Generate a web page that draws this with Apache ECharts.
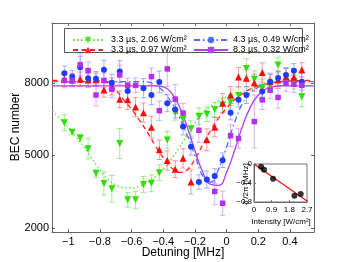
<!DOCTYPE html>
<html><head><meta charset="utf-8">
<script src="https://cdn.jsdelivr.net/npm/echarts@6/dist/echarts.min.js"></script>
<style>html,body{margin:0;padding:0;background:#fff}#c{width:349px;height:262px}</style>
</head><body><div id="c"></div>
<script>
// ---------- data ----------
const detuning = [-1.025,-0.975,-0.925,-0.875,-0.825,-0.775,-0.725,-0.675,-0.625,-0.575,-0.525,-0.475,-0.425,-0.375,-0.325,-0.275,-0.225,-0.175,-0.125,-0.075,-0.025,0.025,0.075,0.125,0.175,0.225,0.275,0.325,0.375,0.425,0.475];

const greenVals = [6350,5960,5720,5280,4250,3840,3620,5490,3160,3160,3800,3850,4280,5640,6780,6500,6100,6620,6700,6900,7090,7220,7480,8600,8150,7800,7900,8740,8250,8050,7430];
const greenErr  = [330,100,150,430,160,480,550,620,300,350,330,350,330,350,320,350,330,350,300,300,300,300,350,400,350,350,300,320,350,300,420];

const redVals = [8150,8120,8150,8120,8130,7710,7850,7320,7300,7000,6770,6170,5230,4790,4430,4880,3900,null,5650,6170,7160,7500,8240,8190,8010,8430,8050,8120,8260,8230,8540];
const redErr  = [300,280,300,300,280,300,350,350,400,400,400,450,400,400,350,400,500,0,450,400,400,350,400,350,350,400,350,350,350,350,300];

const blueVals = [8400,8260,8650,8190,8170,8540,8010,8470,7670,null,7780,7500,8040,7160,6900,6200,5360,3900,4000,4150,4800,6770,7300,7500,null,7650,8050,8200,8330,8500,8050];
const blueErr  = [300,250,450,350,300,400,350,450,350,0,400,400,450,350,350,350,350,300,350,300,300,300,300,350,0,300,300,300,300,300,350];

const purpleVals = [8100,8100,8750,8510,7500,8100,7740,8330,7900,7900,null,8260,6850,8580,7330,6750,null,6040,null,3510,3020,5820,5700,null,6400,7300,7700,7400,8000,7950,7900];
const purpleErr  = [300,250,450,350,450,300,350,400,300,300,0,350,400,720,600,400,0,500,0,550,500,450,400,0,1100,400,350,450,350,350,350];

const fitX = [-1.1,-1.05,-1.0,-0.95,-0.9,-0.85,-0.8,-0.75,-0.7,-0.65,-0.6,-0.55,-0.5,-0.45,-0.4,-0.35,-0.3,-0.25,-0.2,-0.15,-0.1,-0.05,0,0.05,0.1,0.15,0.2,0.25,0.3,0.35,0.4,0.45,0.5,0.55];
const greenFit  = [6850,6500,6150,5750,5350,4870,4400,4020,3780,3670,3650,3720,3880,4120,4430,4850,5300,5850,6350,6750,7050,7270,7420,7540,7640,7710,7780,7820,7850,7870,7880,7885,7890,7890];
const redFit    = [8100,8100,8100,8100,8095,8090,8080,8000,7700,7300,6900,6450,5950,5400,4900,4500,4300,4400,4850,5450,6050,6550,6950,7300,7550,7750,7880,7960,8020,8060,8080,8090,8100,8100];
const blueFit   = [8050,8050,8050,8050,8050,8050,8050,8050,8050,8050,8050,8050,8040,7900,7650,7200,6600,5850,5000,4150,3900,4450,5350,6350,7150,7580,7820,7950,8020,8040,8050,8050,8050,8050];
const purpleFit = [7880,7880,7880,7880,7880,7880,7880,7880,7880,7880,7880,7880,7880,7875,7840,7600,7050,6200,5200,4300,3800,3760,4300,5200,6200,7000,7500,7760,7850,7875,7880,7880,7880,7880];

const seriesNames = ['3.3 µs, 2.06 W/cm²','3.3 µs, 0.97 W/cm²','4.3 µs, 0.49 W/cm²','8.3 µs, 0.32 W/cm²'];

const xTicks = [-1,-0.8,-0.6,-0.4,-0.2,0,0.2,0.4];
const yTicks = [2000,5000,8000];

const insetIntensity = [0.36,0.51,0.97,2.06,2.38];
const insetShift = [-0.06,-0.12,-0.31,-0.67,-0.63];
const insetFitX = [0,2.7];
const insetFitY = [0,-0.78];
const insetXTicks = [0,0.9,1.8,2.7];
const insetYTicks = [-0.8,-0.4,0];

// ---------- helpers ----------
const FONT = 'Liberation Sans, Arial, Helvetica, sans-serif';
const fmt = v => String(v).replace('-', '\u2212');
function pts(xs, ys){ const o=[]; xs.forEach((x,i)=>{ if(ys[i]!=null) o.push([x,ys[i]]); }); return o; }
function errPts(xs, ys, es){ const o=[]; xs.forEach((x,i)=>{ if(ys[i]!=null) o.push([x,ys[i],es[i]]); }); return o; }
function errSeries(data, color){
  return {
    type:'custom', xAxisIndex:0, yAxisIndex:0, z:1, clip:true, silent:true,
    data: data,
    renderItem: function(params, api){
      const x=api.value(0), y=api.value(1), e=api.value(2);
      const t=api.coord([x,y+e]), b=api.coord([x,y-e]);
      const hw=2.8, st={stroke:color, lineWidth:1};
      return {type:'group', children:[
        {type:'line', shape:{x1:t[0],y1:t[1],x2:b[0],y2:b[1]}, style:st},
        {type:'line', shape:{x1:t[0]-hw,y1:t[1],x2:t[0]+hw,y2:t[1]}, style:st},
        {type:'line', shape:{x1:b[0]-hw,y1:b[1],x2:b[0]+hw,y2:b[1]}, style:st}
      ]};
    }
  };
}
function markSeries(data, color, symbol, rot){
  return {type:'scatter', xAxisIndex:0, yAxisIndex:0, z:4, data:data, symbol:symbol, symbolRotate:rot||0,
    symbolSize: symbol==='rect'?5.5:(symbol==='circle'?6:7), itemStyle:{color:color, opacity:1}, silent:true};
}
function fitSeries(name, data, color, type, symbol, rot){
  return {type:'line', name:name, xAxisIndex:0, yAxisIndex:0, z:3, data:data, smooth:true,
    showSymbol:false, symbol:symbol, symbolRotate:rot||0, symbolSize:6,
    itemStyle:{color:color}, lineStyle:{color:color, width:1.3, type:type}, silent:true};
}

const C = {
  green:{m:'#2fe000', l:'#55e030', e:'rgba(80,225,60,0.55)'},
  red:{m:'#ff0a0a', l:'#ff2020', e:'rgba(255,80,80,0.55)'},
  blue:{m:'#1f3cff', l:'#4d6bff', e:'rgba(90,120,255,0.55)'},
  purple:{m:'#b52ff0', l:'#b040f0', e:'rgba(205,120,255,0.6)'}
};

const axisCommon = {
  axisLine:{show:true, onZero:false, lineStyle:{color:'#666', width:1}},
  splitLine:{show:false}
};

const option = {
  animation:false,
  backgroundColor:'#fff',
  grid:[
    {left:52, top:23, right:35, bottom:30, containLabel:false, outerBoundsMode:'none'},
    {left:254, top:164, right:42, bottom:60, containLabel:false, outerBoundsMode:'none',
     show:true, backgroundColor:'#fff', borderColor:'#777', borderWidth:1, z:10}
  ],
  xAxis:[
    Object.assign({type:'value', gridIndex:0, position:'bottom', min:-1.103, max:0.552,
      axisTick:{show:true, inside:true, length:3, customValues:xTicks, lineStyle:{color:'#666'}},
      axisLabel:{show:true, customValues:xTicks, formatter:fmt, margin:4, color:'#000', fontSize:11, fontFamily:FONT}}, axisCommon),
    Object.assign({type:'value', gridIndex:0, position:'top', min:-1.103, max:0.552,
      axisTick:{show:true, inside:true, length:3, customValues:xTicks, lineStyle:{color:'#666'}},
      axisLabel:{show:false}}, axisCommon),
    Object.assign({type:'value', gridIndex:1, position:'bottom', min:0, max:2.7, z:11,
      axisTick:{show:true, inside:true, length:2, customValues:insetXTicks, lineStyle:{color:'#777'}},
      axisLabel:{show:true, customValues:insetXTicks, formatter:fmt, margin:4, color:'#000', fontSize:8, fontFamily:FONT}}, axisCommon)
  ],
  yAxis:[
    Object.assign({type:'value', gridIndex:0, position:'left', min:1830, max:10480,
      axisTick:{show:true, inside:true, length:3, customValues:yTicks, lineStyle:{color:'#666'}},
      axisLabel:{show:true, customValues:yTicks, formatter:v=>String(v), margin:3, color:'#000', fontSize:11, fontFamily:FONT}}, axisCommon),
    Object.assign({type:'value', gridIndex:0, position:'right', min:1830, max:10480,
      axisTick:{show:true, inside:true, length:3, customValues:yTicks, lineStyle:{color:'#666'}},
      axisLabel:{show:false}}, axisCommon),
    Object.assign({type:'value', gridIndex:1, position:'left', min:-0.8, max:0, z:11,
      axisTick:{show:true, inside:true, length:2, customValues:insetYTicks, lineStyle:{color:'#777'}},
      axisLabel:{show:true, customValues:insetYTicks, formatter:fmt, margin:2, color:'#000', fontSize:8, fontFamily:FONT}}, axisCommon)
  ],
  legend:[
    {data:[seriesNames[0], seriesNames[1]], orient:'vertical', left:67, top:30, itemWidth:30, itemHeight:8, itemGap:0,
     selectedMode:false, z:21, textStyle:{fontSize:9, lineHeight:10, fontFamily:FONT, color:'#000', padding:[0,0,0,3]}},
    {data:[seriesNames[2], seriesNames[3]], orient:'vertical', left:188, top:30, itemWidth:34, itemHeight:8, itemGap:0,
     selectedMode:false, z:21, textStyle:{fontSize:9, lineHeight:10, fontFamily:FONT, color:'#000', padding:[0,0,0,0]}}
  ],
  graphic:[
    {type:'rect', z:20, shape:{x:64.5, y:28.5, width:238, height:24}, style:{fill:'#fff', stroke:'#555', lineWidth:1}},
    {type:'text', z:30, x:16, y:127, rotation:Math.PI/2, style:{text:'BEC number', align:'center', verticalAlign:'middle', font:'12px '+FONT, fill:'#000'}},
    {type:'text', z:30, x:183, y:253, style:{text:'Detuning [MHz]', align:'center', verticalAlign:'middle', font:'12px '+FONT, fill:'#000'}},
    {type:'text', z:30, x:281, y:222, style:{text:'Intensity [W/cm²]', align:'center', verticalAlign:'middle', font:'8px '+FONT, fill:'#000'}},
    {type:'text', z:30, x:246, y:184, rotation:Math.PI/2, style:{text:"δ'/2π [MHz]", align:'center', verticalAlign:'middle', font:'8px '+FONT, fill:'#000'}}
  ],
  series:[
    errSeries(errPts(detuning, greenVals, greenErr), C.green.e),
    errSeries(errPts(detuning, redVals, redErr), C.red.e),
    errSeries(errPts(detuning, blueVals, blueErr), C.blue.e),
    errSeries(errPts(detuning, purpleVals, purpleErr), C.purple.e),
    fitSeries(seriesNames[0], pts(fitX, greenFit), C.green.l, [1.5,2.5], 'triangle', 180),
    fitSeries(seriesNames[1], pts(fitX, redFit), C.red.l, [5,3.5], 'triangle', 0),
    fitSeries(seriesNames[2], pts(fitX, blueFit), C.blue.l, [6,3,1.5,3], 'circle', 0),
    fitSeries(seriesNames[3], pts(fitX, purpleFit), C.purple.l, 'solid', 'rect', 0),
    markSeries(pts(detuning, greenVals), C.green.m, 'triangle', 180),
    markSeries(pts(detuning, redVals), C.red.m, 'triangle', 0),
    markSeries(pts(detuning, blueVals), C.blue.m, 'circle', 0),
    markSeries(pts(detuning, purpleVals), C.purple.m, 'rect', 0),
    {type:'line', xAxisIndex:2, yAxisIndex:2, z:12, data:pts(insetFitX, insetFitY), showSymbol:false,
     lineStyle:{color:'#f01010', width:1.2}, silent:true},
    {type:'scatter', xAxisIndex:2, yAxisIndex:2, z:13, data:pts(insetIntensity, insetShift), symbol:'circle', symbolSize:6,
     itemStyle:{color:'#000'}, silent:true}
  ]
};
const chart = echarts.init(document.getElementById('c'));
chart.setOption(option);
</script>
</body></html>
